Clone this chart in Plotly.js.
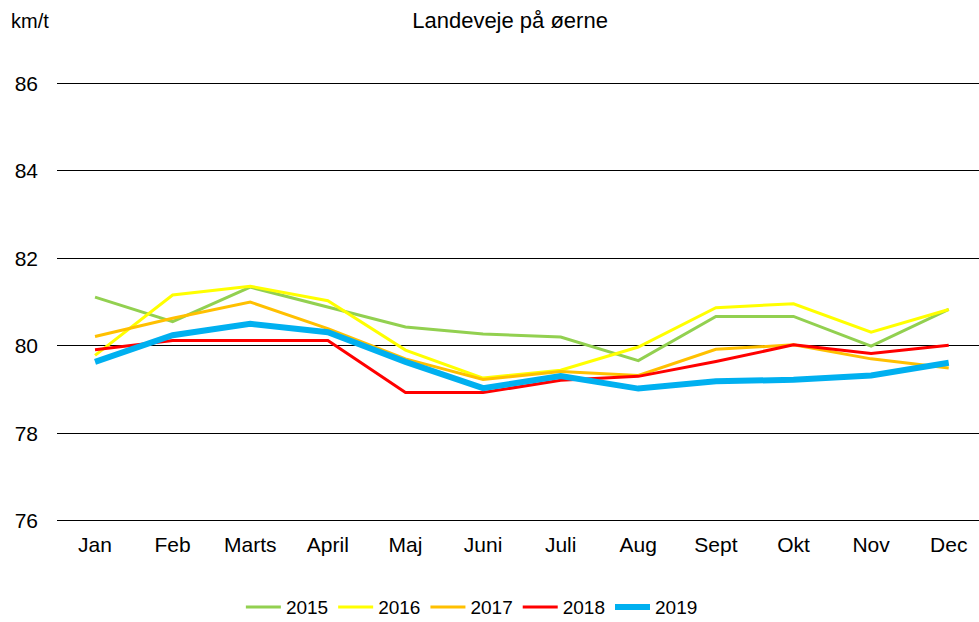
<!DOCTYPE html>
<html><head><meta charset="utf-8">
<script src="https://cdn.plot.ly/plotly-3.0.1.min.js"></script>
<style>body{margin:0;}#chart{width:979px;height:622px;}</style>
</head><body><div id="chart"></div>
<script>
var months = ["Jan","Feb","Marts","April","Maj","Juni","Juli","Aug","Sept","Okt","Nov","Dec"];
var y2015 = [81.11,80.55,81.34,80.88,80.43,80.27,80.20,79.66,80.67,80.67,79.99,80.83];
var y2016 = [79.78,81.16,81.36,81.03,79.90,79.26,79.44,79.97,80.87,80.96,80.31,80.83];
var y2017 = [80.21,80.63,81.00,80.39,79.70,79.23,79.41,79.32,79.92,80.02,79.70,79.49];
var y2018 = [79.91,80.12,80.12,80.12,78.93,78.93,79.21,79.30,79.64,80.02,79.82,80.01];
var y2019 = [79.63,80.24,80.50,80.31,79.63,79.03,79.31,79.02,79.19,79.22,79.32,79.61];
var series = [
  {name:"2015", y:y2015, color:"#92D050", w:3},
  {name:"2016", y:y2016, color:"#FFFF00", w:3},
  {name:"2017", y:y2017, color:"#FFC000", w:3},
  {name:"2018", y:y2018, color:"#FF0000", w:3},
  {name:"2019", y:y2019, color:"#00B0F0", w:6}
];
var traces = series.map(function(s){
  return {x:months, y:s.y, name:s.name, type:"scatter", mode:"lines",
    line:{color:s.color, width:s.w}};
});
var layout = {
  width:979, height:622,
  margin:{l:57, r:0, t:82, b:100, autoexpand:false},
  paper_bgcolor:"#fff", plot_bgcolor:"#fff",
  font:{family:"Liberation Sans, Arial, sans-serif", size:21, color:"#000"},
  title:{text:"Landeveje på øerne", x:0.521, xanchor:"center", y:0.968, yanchor:"middle", font:{size:22}},
  xaxis:{type:"category", range:[-0.49,11.39], showgrid:false, zeroline:false, showline:false, ticks:"", tickfont:{size:21}, ticklabelstandoff:8, automargin:false},
  yaxis:{range:[75.97,86.03], dtick:2, tick0:76, showgrid:true, gridcolor:"#000", gridwidth:1.4, zeroline:false, showline:false, ticks:"", tickfont:{size:21}, ticklabelstandoff:18, automargin:false},
  legend:{orientation:"h", xref:"container", yref:"container", x:0.482, xanchor:"center", y:0.024, yanchor:"middle", font:{size:19}, itemwidth:35, traceorder:"normal"},
  annotations:[{text:"km/t", xref:"paper", yref:"paper", x:-0.052, y:1.139, xanchor:"left", yanchor:"middle", showarrow:false, font:{size:20}}],
  showlegend:true
};
Plotly.newPlot("chart", traces, layout, {displayModeBar:false});
</script></body></html>
